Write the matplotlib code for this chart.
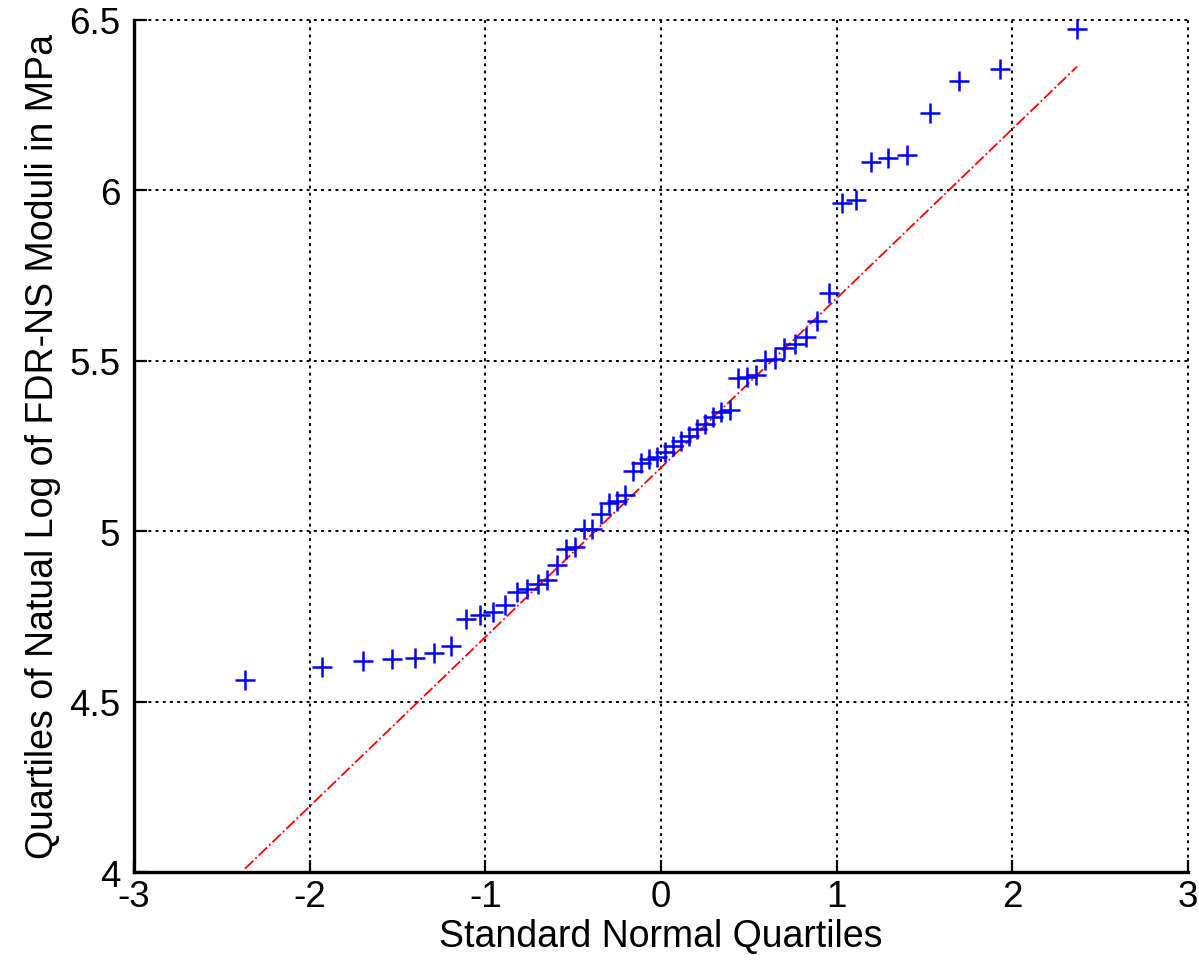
import numpy as np
import matplotlib
matplotlib.use("Agg")
import matplotlib.pyplot as plt
from statistics import NormalDist

# Sorted sample: natural log of FDR-NS moduli (MPa)
ln_moduli = [4.563, 4.602, 4.619, 4.624, 4.629, 4.642, 4.663, 4.742, 4.753, 4.763, 4.783, 4.822,
             4.830, 4.845, 4.857, 4.900, 4.946, 4.953, 5.006, 5.007, 5.051, 5.082, 5.088, 5.105,
             5.177, 5.199, 5.210, 5.216, 5.231, 5.250, 5.265, 5.279, 5.299, 5.314, 5.336, 5.350,
             5.355, 5.449, 5.451, 5.459, 5.501, 5.505, 5.537, 5.548, 5.570, 5.617, 5.698, 5.961,
             5.972, 6.083, 6.094, 6.103, 6.226, 6.321, 6.355, 6.472]
x_ticks = [-3, -2, -1, 0, 1, 2, 3]
y_ticks = [4, 4.5, 5, 5.5, 6, 6.5]
x_ticklabels = ["-3", "-2", "-1", "0", "1", "2", "3"]
y_ticklabels = ["4", "4.5", "5", "5.5", "6", "6.5"]

plt.rcParams['font.family'] = ['Liberation Sans', 'DejaVu Sans']

y = np.sort(np.array(ln_moduli))
n = len(y)
nd = NormalDist()
# theoretical normal quantiles (qqplot abscissa)
x = np.array([nd.inv_cdf((i - 0.5) / n) for i in range(1, n + 1)])

# reference line through first and third quartiles (as in MATLAB qqplot)
q1, q3 = np.percentile(y, [25, 75], method='hazen')
z1, z3 = nd.inv_cdf(0.25), nd.inv_cdf(0.75)
slope = (q3 - q1) / (z3 - z1)
icpt = q1 - slope * z1
xl = np.array([x.min(), x.max()])
yl = icpt + slope * xl

fig = plt.figure(figsize=(11.99, 9.62), dpi=100)
ax = fig.add_axes([0.1118, 0.0925, 0.879, 0.886])

ax.plot(x, y, linestyle='none', marker='+', color='#0000ff', markersize=15, markeredgewidth=1.8, zorder=3)
ax.plot(xl, yl, linestyle='-.', color='#ff0000', linewidth=1.3, zorder=2)

ax.set_xlim(-3, 3)
ax.set_ylim(4, 6.5)
ax.set_xticks(x_ticks)
ax.set_xticklabels(x_ticklabels)
ax.set_yticks(y_ticks)
ax.set_yticklabels(y_ticklabels)

ax.grid(True, color='black', linestyle=(0, (1.5, 2.2)), linewidth=1.4)
ax.set_axisbelow(True)
for g in ax.get_xgridlines() + ax.get_ygridlines():
    g.set_clip_on(False)

for s in ['top', 'right']:
    ax.spines[s].set_visible(False)
for s in ['left', 'bottom']:
    ax.spines[s].set_linewidth(2.4)
    ax.spines[s].set_color('black')

ax.tick_params(direction='in', length=9, width=1.6, labelsize=26.5, colors='black')
ax.tick_params(axis='x', pad=5)
ax.tick_params(axis='y', pad=10)
ax.set_xlabel("Standard Normal Quartiles", fontsize=27, labelpad=3)
ax.set_ylabel("Quartiles of Natual Log of FDR-NS Moduli in MPa", fontsize=27, labelpad=6)

fig.savefig("out.png", dpi=100)
